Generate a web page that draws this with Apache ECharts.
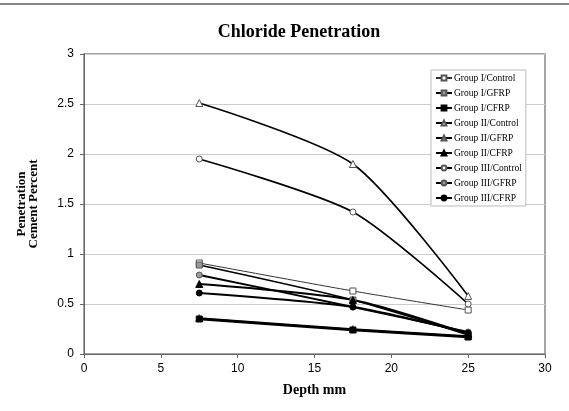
<!DOCTYPE html>
<html><head><meta charset="utf-8">
<script src="https://cdn.jsdelivr.net/npm/echarts@6/dist/echarts.min.js"></script>
<style>html,body{margin:0;padding:0;background:#fff}#c{width:569px;height:411px}</style>
</head><body><div id="c"></div>
<script>
const depths = [7.5, 17.5, 25];
const seriesNames = ["Group I/Control","Group I/GFRP","Group I/CFRP","Group II/Control","Group II/GFRP","Group II/CFRP","Group III/Control","Group III/GFRP","Group III/CFRP"];
const g1Control = [0.91, 0.63, 0.44];
const g1GFRP    = [0.89, 0.54, 0.19];
const g1CFRP    = [0.35, 0.24, 0.17];
const g2Control = [2.51, 1.90, 0.58];
const g2GFRP    = [0.36, 0.25, 0.18];
const g2CFRP    = [0.70, 0.54, 0.20];
const g3Control = [1.95, 1.42, 0.50];
const g3GFRP    = [0.79, 0.47, 0.22];
const g3CFRP    = [0.61, 0.47, 0.21];
const xTicks = [0, 5, 10, 15, 20, 25, 30];
const yTicks = [0, 0.5, 1, 1.5, 2, 2.5, 3];

const values = [g1Control,g1GFRP,g1CFRP,g2Control,g2GFRP,g2CFRP,g3Control,g3GFRP,g3CFRP];
const shapes = ['rect','rect','rect','triangle','triangle','triangle','circle','circle','circle'];
const fills = ['#fff','#999','#000','#fff','#999','#000','#fff','#999','#000'];
const widths = [1,1.6,2.6,1.6,1.6,1.8,1.6,1.8,1.8];
const zs = [2,3,5,2,4,3,2,3,4];

const series = seriesNames.map((n,i)=>({
  name:n, type:'line', smooth:0.25, z: zs[i],
  data: depths.map((d,j)=>[d, values[i][j]]),
  symbol: shapes[i], symbolSize: shapes[i]==='triangle'?7:6,
  itemStyle:{color:fills[i], borderColor: i%3===2 ? '#000' : '#555', borderWidth:1},
  lineStyle:{color: i===0 ? '#333' : '#000', width: widths[i]},
  emphasis:{disabled:true}
}));

const chart = echarts.init(document.getElementById('c'), null, {renderer:'canvas'});
chart.setOption({
  animation:false,
  backgroundColor:'#fff',
  title:{text:'Chloride Penetration', left:294, top:18, textAlign:'center',
    textStyle:{fontFamily:'Liberation Serif', fontWeight:'bold', fontSize:18, color:'#000'}},
  graphic:[{type:'line', shape:{x1:0,y1:4,x2:569,y2:4}, style:{stroke:'#888', lineWidth:2}}],
  grid:{left:84, right:24, top:54, bottom:57, show:true, borderColor:'#888', borderWidth:1.5},
  legend:{orient:'vertical', left:431, top:70, width:91, itemWidth:16, itemHeight:6, itemGap:5,
    padding:[3,4,3,4], borderColor:'#bbb', borderWidth:1, backgroundColor:'#fff',
    data: seriesNames,
    textStyle:{fontFamily:'Liberation Serif', fontSize:9.5, color:'#000', padding:[0,0,0,-3]}},
  xAxis:{type:'value', min:0, max:30, interval:5,
    name:'Depth mm', nameLocation:'middle', nameGap:29,
    nameTextStyle:{fontFamily:'Liberation Serif', fontWeight:'bold', fontSize:14, color:'#000'},
    axisLine:{show:true, lineStyle:{color:'#666', width:1}},
    axisTick:{show:true, length:4, lineStyle:{color:'#666'}},
    axisLabel:{formatter:v=>xTicks.includes(v)?String(v):'', fontFamily:'Liberation Sans', fontSize:12, color:'#000', margin:9},
    splitLine:{show:false}},
  yAxis:{type:'value', min:0, max:3, interval:0.5,
    name:'Penetration\nCement Percent', nameLocation:'middle', nameGap:44, nameRotate:90,
    nameTextStyle:{fontFamily:'Liberation Serif', fontWeight:'bold', fontSize:13, color:'#000', lineHeight:12},
    axisLine:{show:true, lineStyle:{color:'#666', width:1}},
    axisTick:{show:true, length:4, lineStyle:{color:'#666'}},
    axisLabel:{formatter:v=>yTicks.includes(v)?String(v):'', fontFamily:'Liberation Sans', fontSize:12, color:'#000', margin:10},
    splitLine:{show:true, lineStyle:{color:'#ccc', width:1}}},
  series: series
});
</script></body></html>
